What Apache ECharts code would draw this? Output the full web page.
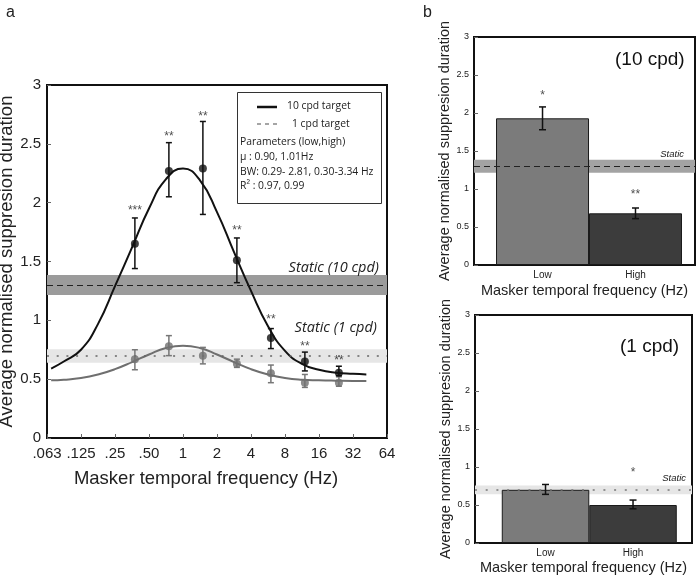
<!DOCTYPE html>
<html><head><meta charset="utf-8">
<script src="https://cdn.jsdelivr.net/npm/echarts@6/dist/echarts.min.js"></script>
<style>html,body{margin:0;padding:0;background:#fff}#c{width:697px;height:578px}</style>
</head><body><div id="c"></div>
<script>
// ---------- Panel a ----------
const freqA   = [0.375, 0.75, 1.5, 3, 6, 12, 24];
const mean10  = [1.65, 2.27, 2.29, 1.51, 0.85, 0.65, 0.555];
const lo10    = [1.44, 2.05, 1.90, 1.32, 0.76, 0.57, 0.53];
const hi10    = [1.87, 2.51, 2.69, 1.70, 0.93, 0.73, 0.61];
const stars10 = ['***', '**', '**', '**', '**', '**', '**'];
const starY10 = [1.96, 2.59, 2.76, 1.79, 1.03, 0.80, 0.68];
const mean1   = [0.67, 0.78, 0.70, 0.63, 0.55, 0.47, 0.47];
const lo1     = [0.58, 0.70, 0.63, 0.60, 0.47, 0.43, 0.44];
const hi1     = [0.75, 0.87, 0.77, 0.67, 0.62, 0.54, 0.52];
// fitted curves
const fitFreq = [0.068, 0.088, 0.125, 0.177, 0.25, 0.354, 0.5, 0.707, 1, 1.414, 2, 2.83, 4, 5.66, 8, 11.3, 16, 22.6, 32, 42];
const fit10   = [0.59, 0.65, 0.75, 0.97, 1.29, 1.62, 1.95, 2.20, 2.29, 2.19, 1.92, 1.58, 1.25, 0.95, 0.74, 0.63, 0.58, 0.555, 0.545, 0.54];
const fit1    = [0.49, 0.495, 0.51, 0.54, 0.585, 0.645, 0.71, 0.765, 0.785, 0.765, 0.71, 0.645, 0.585, 0.54, 0.51, 0.495, 0.49, 0.487, 0.485, 0.485];
const static10 = [1.30, 1.215, 1.385];   // mean, low, high
const static1  = [0.70, 0.64, 0.755];
const xTickValues = [0.0625, 0.125, 0.25, 0.5, 1, 2, 4, 8, 16, 32, 64];
const xTickLabels = ['.063', '.125', '.25', '.50', '1', '2', '4', '8', '16', '32', '64'];
// ---------- Panel b ----------
const condB    = ['Low', 'High'];
const condX    = [1, 2];
const barB10   = [1.93, 0.68];
const loB10    = [1.78, 0.61];
const hiB10    = [2.08, 0.75];
const starsB10 = ['*', '**'];
const starYB10 = [2.27, 0.96];
const barB1    = [0.70, 0.50];
const loB1     = [0.64, 0.45];
const hiB1     = [0.77, 0.565];
const starsB1  = ['', '*'];
const starYB1  = [0, 0.96];

const HF = 'Liberation Sans, Arial, sans-serif';
const MF = 'Open Sans, sans-serif';

function errBars(ax, xs, lo, hi, color, cap, lw) {
  return {
    type: 'custom', xAxisIndex: ax, yAxisIndex: ax, z: 4, silent: true,
    data: xs.map((x, i) => [x, lo[i], hi[i]]),
    renderItem(params, api) {
      const x = api.value(0);
      const p1 = api.coord([x, api.value(1)]);
      const p2 = api.coord([x, api.value(2)]);
      const style = { stroke: color, lineWidth: lw };
      return { type: 'group', children: [
        { type: 'line', shape: { x1: p1[0], y1: p1[1], x2: p2[0], y2: p2[1] }, style },
        { type: 'line', shape: { x1: p1[0] - cap, y1: p1[1], x2: p1[0] + cap, y2: p1[1] }, style },
        { type: 'line', shape: { x1: p2[0] - cap, y1: p2[1], x2: p2[0] + cap, y2: p2[1] }, style }
      ]};
    }
  };
}
function starSeries(ax, xs, ys, labels, size, color) {
  return {
    type: 'scatter', xAxisIndex: ax, yAxisIndex: ax, z: 5, silent: true,
    symbolSize: 1, itemStyle: { color: 'rgba(0,0,0,0)' },
    data: xs.map((x, i) => [x, ys[i], labels[i]]).filter(d => d[2] !== ''),
    label: { show: true, position: 'inside', offset: [0, 3], formatter: p => p.data[2],
      fontFamily: HF, fontSize: size, color: color }
  };
}
function yAxisCfg(grid, nameSize, labelSize, gap, margin) {
  return {
    gridIndex: grid, type: 'value', min: 0, max: 3, interval: 0.5,
    name: 'Average normalised suppresion duration', nameLocation: 'middle', nameGap: gap,
    nameTextStyle: { fontFamily: HF, fontSize: nameSize, color: '#222' },
    axisLine: { show: true, lineStyle: { color: '#111', width: 2 } },
    axisTick: { show: true, inside: true, length: 4, lineStyle: { color: '#666' } },
    axisLabel: { fontFamily: HF, fontSize: labelSize, color: '#222', margin: margin },
    splitLine: { show: false }
  };
}
const gridBorder = { show: true, borderColor: '#111', borderWidth: 2, backgroundColor: 'transparent',
  containLabel: false, outerBoundsMode: 'none' };
function legText(x, y, t) {
  return { type: 'text', x: x, y: y, scaleX: 0.9, originX: 0, originY: 0,
    style: { text: t, fontFamily: MF, fontSize: 11.5, fill: '#222', verticalAlign: 'middle' }, z: 11 };
}

const option = {
  animation: false,
  backgroundColor: '#fff',
  grid: [
    Object.assign({ left: 47, top: 85, width: 340, height: 353 }, gridBorder),
    Object.assign({ left: 474, top: 37, width: 221, height: 228 }, gridBorder),
    Object.assign({ left: 475, top: 315, width: 217, height: 228 }, gridBorder)
  ],
  xAxis: [
    {
      gridIndex: 0, type: 'log', logBase: 2, min: 0.0625, max: 64,
      name: 'Masker temporal frequency (Hz)', nameLocation: 'middle', nameGap: 31,
      nameTextStyle: { fontFamily: HF, fontSize: 18.5, color: '#222', padding: [0, 22, 0, 0] },
      axisLine: { show: true, lineStyle: { color: '#111', width: 2 } },
      axisTick: { show: true, inside: true, length: 4, customValues: xTickValues, lineStyle: { color: '#666' } },
      axisLabel: { fontFamily: HF, fontSize: 15, color: '#222', margin: 8, customValues: xTickValues,
        formatter: v => xTickLabels[Math.round(Math.log2(v)) + 4] },
      splitLine: { show: false }, minorTick: { show: false }
    },
    {
      gridIndex: 1, type: 'value', min: 0.263, max: 2.64,
      name: 'Masker temporal frequency (Hz)', nameLocation: 'middle', nameGap: 18,
      nameTextStyle: { fontFamily: HF, fontSize: 14.5, color: '#222' },
      axisLine: { show: true, lineStyle: { color: '#111', width: 2 } },
      axisTick: { show: false },
      axisLabel: { customValues: condX, fontFamily: HF, fontSize: 10, color: '#222', margin: 5,
        formatter: v => condB[Math.round(v) - 1] },
      splitLine: { show: false }
    },
    {
      gridIndex: 2, type: 'value', min: 0.194, max: 2.674,
      name: 'Masker temporal frequency (Hz)', nameLocation: 'middle', nameGap: 17,
      nameTextStyle: { fontFamily: HF, fontSize: 14.5, color: '#222' },
      axisLine: { show: true, lineStyle: { color: '#111', width: 2 } },
      axisTick: { show: false },
      axisLabel: { customValues: condX, fontFamily: HF, fontSize: 10, color: '#222', margin: 5,
        formatter: v => condB[Math.round(v) - 1] },
      splitLine: { show: false }
    }
  ],
  yAxis: [
    yAxisCfg(0, 18.5, 15, 25, 6),
    yAxisCfg(1, 14.5, 9, 19, 5),
    yAxisCfg(2, 14.5, 9, 19, 5)
  ],
  title: [
    { text: 'a', left: 1, top: 0, textStyle: { fontFamily: HF, fontSize: 16, fontWeight: 'normal', color: '#222' } },
    { text: 'b', left: 418, top: 0, textStyle: { fontFamily: HF, fontSize: 16, fontWeight: 'normal', color: '#222' } },
    { text: '(10 cpd)', left: 610, top: 45, textStyle: { fontFamily: HF, fontSize: 19, fontWeight: 'normal', color: '#111' } },
    { text: '(1 cpd)', left: 615, top: 332, textStyle: { fontFamily: HF, fontSize: 19, fontWeight: 'normal', color: '#111' } }
  ],
  graphic: [
    { type: 'rect', shape: { x: 237.5, y: 92.5, width: 144, height: 111 }, style: { fill: '#fff', stroke: '#333', lineWidth: 1 }, z: 10 },
    { type: 'line', shape: { x1: 257, y1: 107, x2: 277, y2: 107 }, style: { stroke: '#111', lineWidth: 2.5 }, z: 11 },
    { type: 'line', shape: { x1: 257, y1: 124, x2: 277, y2: 124 }, style: { stroke: '#888', lineWidth: 1.5, lineDash: [4, 4] }, z: 11 },
    legText(287, 106, '10 cpd target'),
    legText(292, 124, '1 cpd target'),
    legText(240, 142, 'Parameters (low,high)'),
    legText(240, 157, 'μ : 0.90, 1.01Hz'),
    legText(240, 172, 'BW: 0.29- 2.81, 0.30-3.34 Hz'),
    legText(240, 186, 'R² : 0.97, 0.99')
  ],
  series: [
    // ---- panel a static references ----
    {
      type: 'line', xAxisIndex: 0, yAxisIndex: 0, data: [], z: 1, silent: true,
      markArea: { silent: true, itemStyle: { color: '#9b9b9b' }, data: [[{ yAxis: static10[1] }, { yAxis: static10[2] }]] },
      markLine: { silent: true, symbol: 'none', lineStyle: { color: '#222', type: [6, 4], width: 1.2 },
        label: { show: true, position: 'insideEndTop', distance: [8, 10], formatter: 'Static (10 cpd)',
          fontFamily: MF, fontStyle: 'italic', fontSize: 14.5, color: '#222' },
        data: [{ yAxis: static10[0] }] }
    },
    {
      type: 'line', xAxisIndex: 0, yAxisIndex: 0, data: [], z: 1, silent: true,
      markArea: { silent: true, itemStyle: { color: '#e6e6e6' }, data: [[{ yAxis: static1[1] }, { yAxis: static1[2] }]] },
      markLine: { silent: true, symbol: 'none', lineStyle: { color: '#666', type: [2, 7.7], width: 1.6 },
        label: { show: true, position: 'insideEndTop', distance: [10, 20], formatter: 'Static (1 cpd)',
          fontFamily: MF, fontStyle: 'italic', fontSize: 14.5, color: '#222' },
        data: [{ yAxis: static1[0] }] }
    },
    // fitted curves
    { type: 'line', xAxisIndex: 0, yAxisIndex: 0, z: 3, smooth: true, showSymbol: false, silent: true,
      lineStyle: { color: '#111', width: 2 }, data: fitFreq.map((x, i) => [x, fit10[i]]) },
    { type: 'line', xAxisIndex: 0, yAxisIndex: 0, z: 3, smooth: true, showSymbol: false, silent: true,
      lineStyle: { color: '#6f6f6f', width: 2 }, data: fitFreq.map((x, i) => [x, fit1[i]]) },
    errBars(0, freqA, lo1, hi1, '#777', 3, 1.5),
    errBars(0, freqA, lo10, hi10, '#111', 3, 1.5),
    { type: 'scatter', xAxisIndex: 0, yAxisIndex: 0, z: 5, symbolSize: 8, itemStyle: { color: '#707070' },
      data: freqA.map((x, i) => [x, mean1[i]]) },
    { type: 'scatter', xAxisIndex: 0, yAxisIndex: 0, z: 5, symbolSize: 8, itemStyle: { color: '#111' },
      data: freqA.map((x, i) => [x, mean10[i]]) },
    starSeries(0, freqA, starY10, stars10, 12, '#222'),
    // ---- panel b top (10 cpd) ----
    {
      type: 'line', xAxisIndex: 1, yAxisIndex: 1, data: [], z: 1, silent: true,
      markArea: { silent: true, itemStyle: { color: '#a3a3a3' }, data: [[{ yAxis: static10[1] }, { yAxis: static10[2] }]] },
      markLine: { silent: true, symbol: 'none', lineStyle: { color: '#222', type: [6, 4], width: 1.2 },
        label: { show: true, position: 'insideEndTop', distance: [11, 7], formatter: 'Static',
          fontFamily: HF, fontStyle: 'italic', fontSize: 9.5, color: '#222' },
        data: [{ yAxis: static10[0] }] }
    },
    { type: 'bar', xAxisIndex: 1, yAxisIndex: 1, z: 2, barWidth: 93, silent: true,
      data: condX.map((x, i) => ({ value: [x, barB10[i]], itemStyle: { color: i === 0 ? '#7b7b7b' : '#3c3c3c' } })),
      itemStyle: { borderColor: '#1a1a1a', borderWidth: 1 } },
    errBars(1, condX, loB10, hiB10, '#111', 3.5, 1.5),
    starSeries(1, condX, starYB10, starsB10, 12, '#222'),
    // ---- panel b bottom (1 cpd) ----
    {
      type: 'line', xAxisIndex: 2, yAxisIndex: 2, data: [], z: 1, silent: true,
      markArea: { silent: true, itemStyle: { color: '#e6e6e6' }, data: [[{ yAxis: static1[1] }, { yAxis: static1[2] }]] }
    },
    { type: 'bar', xAxisIndex: 2, yAxisIndex: 2, z: 2, barWidth: 87.5, silent: true,
      data: condX.map((x, i) => ({ value: [x, barB1[i]], itemStyle: { color: i === 0 ? '#7b7b7b' : '#3c3c3c' } })),
      itemStyle: { borderColor: '#1a1a1a', borderWidth: 1 } },
    {
      type: 'line', xAxisIndex: 2, yAxisIndex: 2, data: [], z: 3, silent: true,
      markLine: { silent: true, symbol: 'none', lineStyle: { color: '#777', type: [2, 8.7], width: 1.6 },
        label: { show: true, position: 'insideEndTop', distance: [6, 6], formatter: 'Static',
          fontFamily: HF, fontStyle: 'italic', fontSize: 9.5, color: '#222' },
        data: [{ yAxis: static1[0] }] }
    },
    errBars(2, condX, loB1, hiB1, '#111', 3.5, 1.5),
    starSeries(2, condX, starYB1, starsB1, 12, '#222')
  ]
};
const chart = echarts.init(document.getElementById('c'), null, { renderer: 'canvas' });
chart.setOption(option);
</script>
</body></html>
